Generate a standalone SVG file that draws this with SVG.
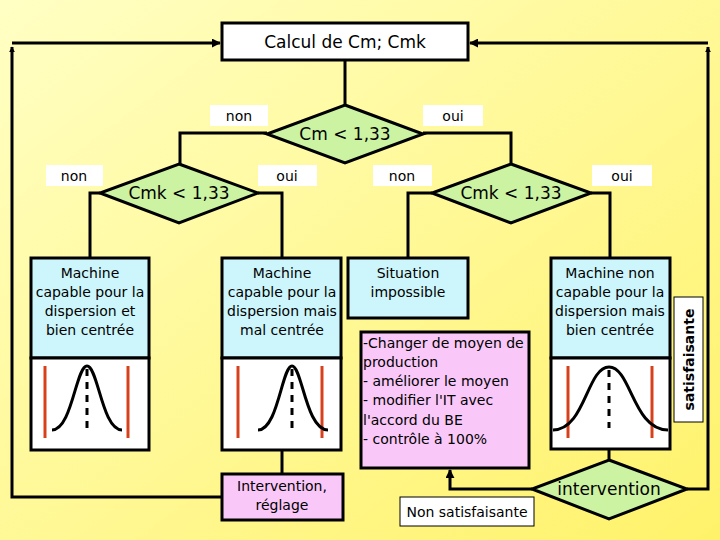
<svg xmlns="http://www.w3.org/2000/svg" width="720" height="540" viewBox="0 0 720 540">
<defs>
<linearGradient id="bg" x1="0" y1="0" x2="1" y2="1">
<stop offset="0" stop-color="#ffffc4"/>
<stop offset="1" stop-color="#fff26a"/>
</linearGradient>
<marker id="ah" viewBox="0 0 10 10" refX="9" refY="5" markerWidth="3" markerHeight="3" orient="auto" markerUnits="strokeWidth">
<path d="M0,0 L10,5 L0,10 z" fill="#000"/>
</marker>
<marker id="ahs" viewBox="0 0 10 10" refX="9" refY="5" markerWidth="2" markerHeight="2" orient="auto" markerUnits="strokeWidth">
<path d="M0,0 L10,5 L0,10 z" fill="#000"/>
</marker>
<style>
.ln{fill:none;stroke:#000;stroke-width:3}
.box{stroke:#000;stroke-width:3}
.cy{fill:#ccf6fc}
.wh{fill:#fff}
.pk{fill:#f9c8f9}
.gr{fill:#ccf3a2;stroke:#000;stroke-width:3;stroke-linejoin:miter}
.lab{fill:#fff}
.t{font-family:"DejaVu Sans","Liberation Sans",sans-serif;font-size:14px;fill:#000;text-anchor:middle}
.tl{font-family:"DejaVu Sans","Liberation Sans",sans-serif;font-size:14px;fill:#000}
.d{font-family:"DejaVu Sans","Liberation Sans",sans-serif;font-size:17px;fill:#000;text-anchor:middle}
.s{font-family:"DejaVu Sans","Liberation Sans",sans-serif;font-size:14px;fill:#000;text-anchor:middle}
.red{stroke:#d8401c;stroke-width:3}
.bell{fill:none;stroke:#000;stroke-width:3}
.dash{stroke:#000;stroke-width:3;stroke-dasharray:7,6}
</style>
</defs>
<rect width="720" height="540" fill="url(#bg)"/>

<g id="connectors">
<path class="ln" d="M345,60 V105"/>
<path class="ln" d="M267,133 H180 V164"/>
<path class="ln" d="M423,133 H511 V164"/>
<path class="ln" d="M100,193 H90 V258"/>
<path class="ln" d="M258,193 H282 V258"/>
<path class="ln" d="M432,193 H408 V258"/>
<path class="ln" d="M591,193 H610 V258"/>
<path class="ln" d="M282,450 V474"/>
<path class="ln" d="M609,449 V460"/>
<path class="ln" d="M222,497 H12 V47" marker-end="url(#ahs)"/>
<path class="ln" d="M12,43 H220" marker-end="url(#ah)"/>
<path class="ln" d="M687,489 H708 V47" marker-end="url(#ahs)"/>
<path class="ln" d="M708,43 H470" marker-end="url(#ah)"/>
<path class="ln" d="M532,489 H450 V470" marker-end="url(#ah)"/>
</g>

<g id="labels">
<rect class="lab" x="210" y="105" width="58" height="21"/>
<text class="s" x="239" y="121">non</text>
<rect class="lab" x="423" y="105" width="60" height="21"/>
<text class="s" x="453" y="121">oui</text>
<rect class="lab" x="46" y="165" width="57" height="21"/>
<text class="s" x="74" y="181">non</text>
<rect class="lab" x="258" y="165" width="59" height="21"/>
<text class="s" x="287" y="181">oui</text>
<rect class="lab" x="373" y="165" width="59" height="21"/>
<text class="s" x="402" y="181">non</text>
<rect class="lab" x="592" y="165" width="60" height="21"/>
<text class="s" x="622" y="181">oui</text>
<rect class="lab" x="400" y="497" width="134" height="29" stroke="#000" stroke-width="1"/>
<text class="s" x="467" y="517">Non satisfaisante</text>
<rect class="lab" x="674" y="297" width="29" height="125" stroke="#000" stroke-width="1"/>
<text class="s" transform="translate(694,359.5) rotate(-90)" x="0" y="0" font-weight="bold">satisfaisante</text>
</g>

<g id="calcul">
<rect class="box wh" x="222" y="23" width="246" height="37"/>
<text class="t" x="345" y="48" style="font-size:17px">Calcul de Cm; Cmk</text>
</g>

<g id="cm">
<polygon class="gr" points="345,105 423,134 345,163 267,134"/>
<text class="d" x="345" y="140">Cm &lt; 1,33</text>
</g>

<g id="cmk-left">
<polygon class="gr" points="179,164 258,193 179,223 100,193"/>
<text class="d" x="179" y="199">Cmk &lt; 1,33</text>
</g>

<g id="cmk-right">
<polygon class="gr" points="511,164 591,193 511,223 432,193"/>
<text class="d" x="511" y="199">Cmk &lt; 1,33</text>
</g>

<g id="machine-bien">
<rect class="box cy" x="31" y="258" width="118" height="100"/>
<rect class="box wh" x="31" y="358" width="118" height="92"/>
<text class="t" x="90" y="278">Machine</text>
<text class="t" x="90" y="297">capable pour la</text>
<text class="t" x="90" y="316">dispersion et</text>
<text class="t" x="90" y="335">bien centrée</text>
<line class="red" x1="45" y1="366" x2="45" y2="438"/>
<line class="red" x1="128" y1="366" x2="128" y2="438"/>
<path class="bell" d="M52,430 C72,430 76,366 87,366 C98,366 102,430 122,430"/>
<line class="dash" x1="87" y1="369" x2="87" y2="428"/>
</g>

<g id="machine-mal">
<rect class="box cy" x="222" y="258" width="119" height="100"/>
<rect class="box wh" x="222" y="358" width="119" height="92"/>
<text class="t" x="282" y="278">Machine</text>
<text class="t" x="282" y="297">capable pour la</text>
<text class="t" x="282" y="316">dispersion mais</text>
<text class="t" x="282" y="335">mal centrée</text>
<line class="red" x1="238" y1="366" x2="238" y2="438"/>
<line class="red" x1="322" y1="366" x2="322" y2="438"/>
<path class="bell" d="M258,430 C278,430 282,366 292,366 C302,366 306,430 328,430"/>
<line class="dash" x1="292" y1="369" x2="292" y2="428"/>
</g>

<g id="situation">
<rect class="box cy" x="348" y="258" width="120" height="60"/>
<text class="t" x="408" y="278">Situation</text>
<text class="t" x="408" y="297">impossible</text>
</g>

<g id="machine-non">
<rect class="box cy" x="551" y="258" width="119" height="100"/>
<rect class="box wh" x="551" y="358" width="119" height="91"/>
<text class="t" x="610" y="278">Machine non</text>
<text class="t" x="610" y="297">capable pour la</text>
<text class="t" x="610" y="316">dispersion mais</text>
<text class="t" x="610" y="335">bien centrée</text>
<line class="red" x1="568" y1="366" x2="568" y2="438"/>
<line class="red" x1="652" y1="366" x2="652" y2="438"/>
<path class="bell" d="M553,430 C585,430 587,367 609,367 C631,367 633,430 668,430"/>
<line class="dash" x1="609" y1="370" x2="609" y2="428"/>
</g>

<g id="changer">
<rect class="box pk" x="361" y="332" width="168" height="136"/>
<text class="tl" x="363" y="348">-Changer de moyen de</text>
<text class="tl" x="363" y="367">production</text>
<text class="tl" x="363" y="386">- améliorer le moyen</text>
<text class="tl" x="363" y="405">- modifier l'IT avec</text>
<text class="tl" x="363" y="425">l'accord du BE</text>
<text class="tl" x="363" y="444">- contrôle à 100%</text>
</g>

<g id="reglage">
<rect class="box pk" x="222" y="474" width="121" height="46"/>
<text class="t" x="282" y="491">Intervention,</text>
<text class="t" x="282" y="510">réglage</text>
</g>

<g id="intervention">
<polygon class="gr" points="609,460 687,489 609,519 532,489"/>
<text class="d" x="609" y="495">intervention</text>
</g>
</svg>
